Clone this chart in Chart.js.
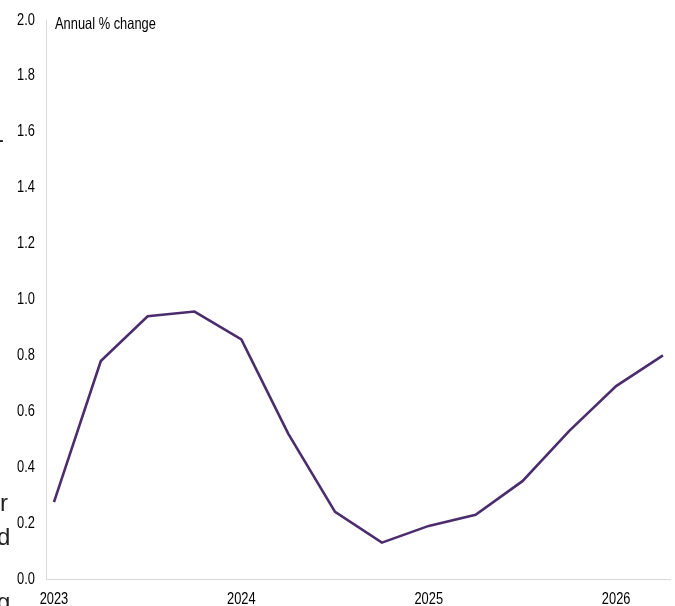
<!DOCTYPE html>
<html>
<head>
<meta charset="utf-8">
<script src="https://cdn.jsdelivr.net/npm/chart.js@4/dist/chart.umd.min.js"></script>
<style>
  html, body { margin: 0; padding: 0; background: #fff; overflow: hidden; }
  #wrap { position: relative; width: 675px; height: 606px; overflow: hidden; }
  #box { position: absolute; left: 0; top: 0; width: 675px; height: 620px; }
  .frag { position: absolute; font-family: 'Liberation Sans', Arial, sans-serif; font-size: 24px; color: #222; line-height: 1; }
</style>
</head>
<body>
<div id="wrap">
  <div id="box"><canvas id="chartGrowth"></canvas></div>
  <span class="frag" style="left:-4px;top:127px;">-</span>
  <span class="frag" style="left:0px;top:491px;">r</span>
  <span class="frag" style="left:-3px;top:525px;">d</span>
  <span class="frag" style="left:-3px;top:590px;">g</span>
</div>
<script>
// quarterly points, 2023 Q1 .. 2026 Q2
const quarters = [0, 1, 2, 3, 4, 5, 6, 7, 8, 9, 10, 11, 12, 13];
const growth = [0.275, 0.78, 0.94, 0.957, 0.857, 0.52, 0.24, 0.13, 0.19, 0.23, 0.35, 0.53, 0.69, 0.80];
const yearTicks = [0, 4, 8, 12];
const yearLabels = ['2023', '2024', '2025', '2026'];
const yTicks = [0, 0.2, 0.4, 0.6, 0.8, 1.0, 1.2, 1.4, 1.6, 1.8, 2.0];

const FONT = "'Liberation Sans Narrow', 'Arial Narrow', 'Liberation Sans', sans-serif";
const SQUEEZE = 0.78; // no narrow font here, so squash the regular one

function narrowText(ctx, text, x, y, align) {
  ctx.save();
  ctx.translate(x, y);
  ctx.scale(SQUEEZE, 1);
  ctx.textAlign = align;
  ctx.fillText(text, 0, 0);
  ctx.restore();
}

// tick labels + unit label drawn condensed, positions from the scales
const narrowLabels = {
  id: 'narrowLabels',
  afterDraw(chart) {
    const { ctx, chartArea, scales } = chart;
    ctx.save();
    ctx.font = '16.5px ' + FONT;
    ctx.fillStyle = '#000';
    ctx.textBaseline = 'middle';
    scales.y.ticks.forEach(t => {
      narrowText(ctx, t.value.toFixed(1), chartArea.left - 11, scales.y.getPixelForValue(t.value), 'right');
    });
    scales.x.ticks.forEach(t => {
      const lbl = yearLabels[yearTicks.indexOf(t.value)];
      if (lbl) narrowText(ctx, lbl, scales.x.getPixelForValue(t.value), chartArea.bottom + 20, 'center');
    });
    narrowText(ctx, 'Annual % change', chartArea.left + 9, chartArea.top + 4, 'left');
    ctx.restore();
  }
};

new Chart(document.getElementById('chartGrowth'), {
  type: 'line',
  data: {
    datasets: [{
      data: quarters.map((q, i) => ({ x: q, y: growth[i] })),
      borderColor: '#4b2d6d',
      borderWidth: 2.6,
      pointRadius: 0,
      tension: 0,
      fill: false
    }]
  },
  options: {
    responsive: true,
    maintainAspectRatio: false,
    animation: false,
    layout: { padding: { top: 20, right: 5, left: 0, bottom: 0 } },
    plugins: { legend: { display: false }, tooltip: { enabled: false } },
    scales: {
      x: {
        type: 'linear',
        min: -0.17,
        max: 13.15,
        afterBuildTicks: s => { s.ticks = yearTicks.map(v => ({ value: v })); },
        afterFit: s => { s.height = 41; },
        ticks: {
          color: 'rgba(0,0,0,0)',
          padding: 13,
          maxRotation: 0,
          font: { family: FONT, size: 15 },
          callback: v => yearLabels[yearTicks.indexOf(v)] || ''
        },
        grid: { display: false, drawTicks: false },
        border: { display: true, color: '#d9d9d9', width: 1 }
      },
      y: {
        min: 0,
        max: 2,
        afterBuildTicks: s => { s.ticks = yTicks.map(v => ({ value: v })); },
        afterFit: s => { s.width = 46; },
        ticks: {
          color: 'rgba(0,0,0,0)',
          padding: 11,
          font: { family: FONT, size: 15 },
          callback: v => v.toFixed(1)
        },
        grid: { display: false, drawTicks: false },
        border: { display: true, color: '#d9d9d9', width: 1 }
      }
    }
  },
  plugins: [narrowLabels]
});
</script>
</body>
</html>
